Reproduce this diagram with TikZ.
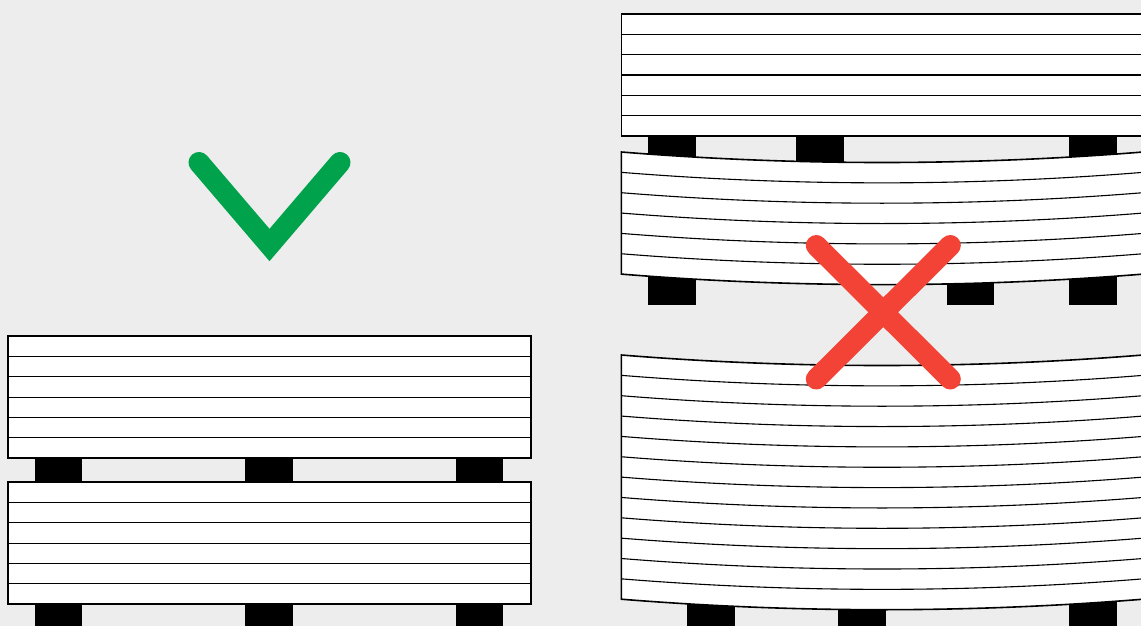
\documentclass[tikz,border=0pt]{standalone}
\definecolor{bgc}{HTML}{EDEDED}
\definecolor{okc}{HTML}{00A34B}
\definecolor{noc}{HTML}{F24336}
\tikzset{
  pallet/.style={fill=black,draw=none},
  board/.style={fill=white,draw=black,line width=1.6pt,line join=miter},
  layer/.style={draw=black,line width=1.1pt},
  mark stroke/.style={line width=21pt,line cap=round,miter limit=10}
}
\newcommand{\flatboard}[3]{% x0,x1,ytop
  \draw[board] (#1,#3) rectangle (#2,#3+122);
  \foreach \k in {1,...,5}{\draw[layer] (#1,#3+20.35*\k) -- (#2,#3+20.35*\k);}
}
\newcommand{\bentboard}[2]{% ytop, layers
  \pgfmathsetmacro{\yb}{#1+20.35*#2}
  \draw[board] (621.3,#1) .. controls (795,#1+14) and (969,#1+14) .. (1143,#1)
     -- (1143,\yb) .. controls (969,\yb+14) and (795,\yb+14) .. (621.3,\yb) -- cycle;
  \pgfmathtruncatemacro{\nn}{#2-1}
  \foreach \k in {1,...,\nn}{\pgfmathsetmacro{\yy}{#1+20.35*\k}
    \draw[layer] (621.3,\yy) .. controls (795,\yy+14) and (969,\yy+14) .. (1143,\yy);}
}
\newcommand{\block}[3]{\fill[pallet] (#1,#2) rectangle (#1+47.5,#3);}
\begin{document}
\begin{tikzpicture}[x=1pt,y=-1pt]
\useasboundingbox (0,0) rectangle (1141,626);
\fill[bgc] (0,0) rectangle (1141,626);
\begin{scope}
\clip (0,0) rectangle (1141,626);
% left stack
\foreach \x in {34.9,245.3,455.8}{\block{\x}{458}{482}\block{\x}{604}{627}}
\flatboard{7.8}{530.8}{336}
\flatboard{7.8}{530.8}{482}
% right stack supports
\foreach \x in {648.4,796.4,1069.4}{\block{\x}{136}{165}}
\foreach \x in {648.4,946.9,1069.4}{\block{\x}{270}{305}}
\foreach \x in {687.4,838.3,1069.4}{\block{\x}{595}{627}}
\flatboard{621.3}{1145}{14}
\bentboard{152}{6}
\bentboard{355}{12}
\end{scope}
\coordinate (c1) at (199,162.5);
\coordinate (c2) at (269.5,245);
\coordinate (c3) at (340,162.5);
\draw[mark stroke,draw=okc,line join=miter] (c1) -- (c2) -- (c3);
\coordinate (x1) at (816.3,245.5);
\coordinate (x2) at (950.3,379);
\coordinate (x3) at (950.3,245.5);
\coordinate (x4) at (816.3,379);
\draw[mark stroke,draw=noc] (x1) -- (x2);
\draw[mark stroke,draw=noc] (x3) -- (x4);
\end{tikzpicture}
\end{document}
